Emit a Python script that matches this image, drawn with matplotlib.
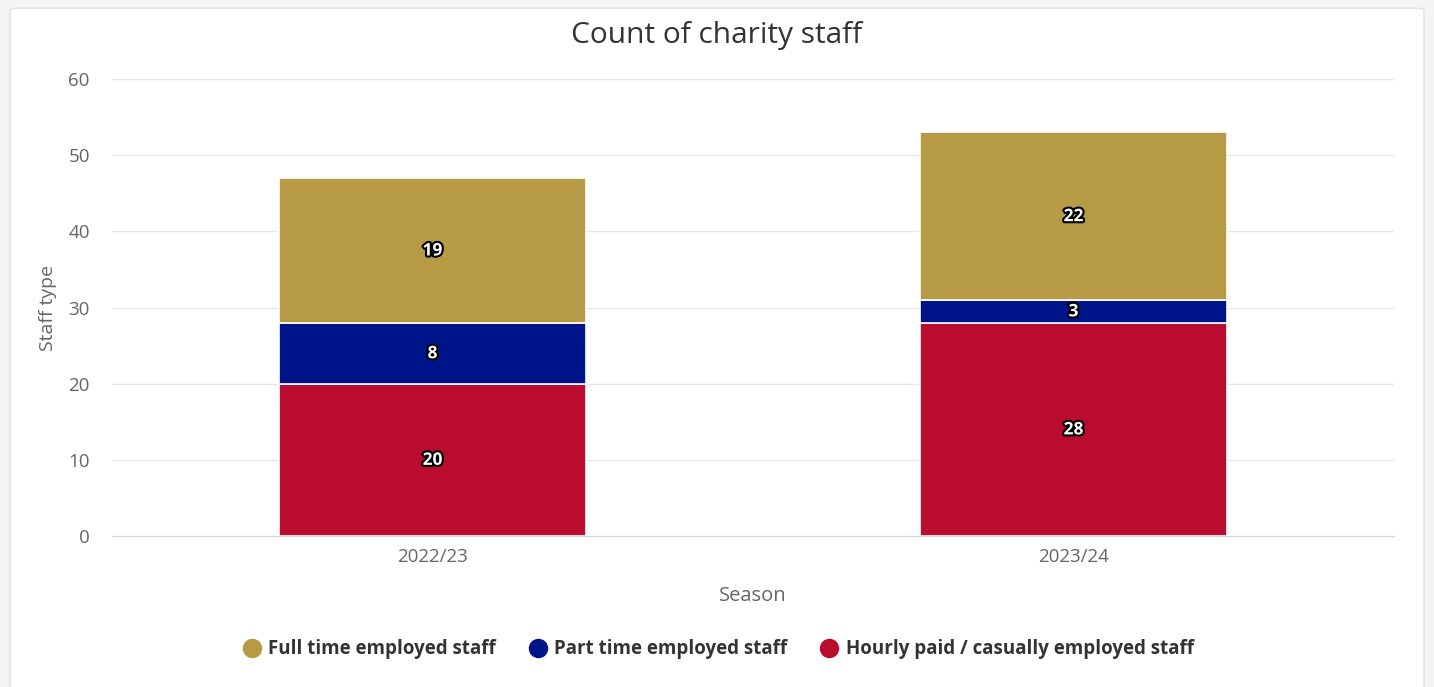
import matplotlib.pyplot as plt
import matplotlib.patheffects as pe
from matplotlib.patches import FancyBboxPatch
from matplotlib.lines import Line2D
import numpy as np

plt.rcParams['font.family'] = ['Open Sans', 'DejaVu Sans']

seasons = ['2022/23', '2023/24']
series = ['Full time employed staff', 'Part time employed staff',
          'Hourly paid / casually employed staff']
hourly = [20, 28]
part_time = [8, 3]
full_time = [19, 22]
colors = {'full': '#B69A45', 'part': '#001489', 'hourly': '#BA0C2F'}

fig = plt.figure(figsize=(14.34, 6.87), dpi=100)
fig.patch.set_facecolor('#f4f4f4')

# white card with a soft border, kept behind the axes
card = FancyBboxPatch((0.007, -0.02), 0.986, 1.008, boxstyle='round,pad=0,rounding_size=0.004',
                      transform=fig.transFigure, facecolor='white', edgecolor='#e4e4e4',
                      linewidth=1.2, zorder=-10)
fig.patches.append(card)

ax = fig.add_axes([0.0781, 0.2198, 0.894, 0.665])
ax.set_facecolor('none')

x = np.arange(len(seasons))
w = 0.48
stacks = [(hourly, colors['hourly']), (part_time, colors['part']), (full_time, colors['full'])]
bottom = np.zeros(len(seasons))
for vals, col in stacks:
    ax.bar(x, vals, w, bottom=bottom, color=col, edgecolor='white', linewidth=1.2, zorder=3)
    for xi, b, v in zip(x, bottom, vals):
        t = ax.text(xi, b + v / 2, str(v), ha='center', va='center', color='white',
                    fontsize=12.5, fontweight='bold', zorder=4)
        t.set_path_effects([pe.withStroke(linewidth=3, foreground='black')])
    bottom += np.array(vals)

ax.set_xlim(-0.5, 1.5)
ax.set_ylim(0, 60)
ax.set_yticks(range(0, 61, 10))
ax.yaxis.grid(True, color='#e6e6e6', linewidth=1, zorder=0)
ax.set_xticks(x)
ax.set_xticklabels(seasons)
for s in ['top', 'right', 'left']:
    ax.spines[s].set_visible(False)
ax.spines['bottom'].set_color('#ccd6eb')
ax.tick_params(axis='both', length=0, labelsize=13.5, labelcolor='#666666')
ax.tick_params(axis='x', pad=9)
ax.tick_params(axis='y', pad=16)

ax.set_ylabel('Staff type', fontsize=14, color='#666666', labelpad=8)
ax.set_xlabel('Season', fontsize=14.5, color='#666666', labelpad=14)
fig.text(0.5, 0.948, 'Count of charity staff', ha='center', va='center',
         fontsize=21.5, color='#333333')

handles = [Line2D([], [], marker='o', linestyle='', markersize=13, color=c)
           for c in (colors['full'], colors['part'], colors['hourly'])]
fig.legend(handles, series, loc='center', bbox_to_anchor=(0.5, 0.055), ncol=3, frameon=False,
           prop={'size': 13.5, 'weight': 'bold'}, labelcolor='#333333',
           handletextpad=0.3, columnspacing=1.6, handlelength=1.2)

fig.savefig('out.png', dpi=100, facecolor=fig.get_facecolor())
